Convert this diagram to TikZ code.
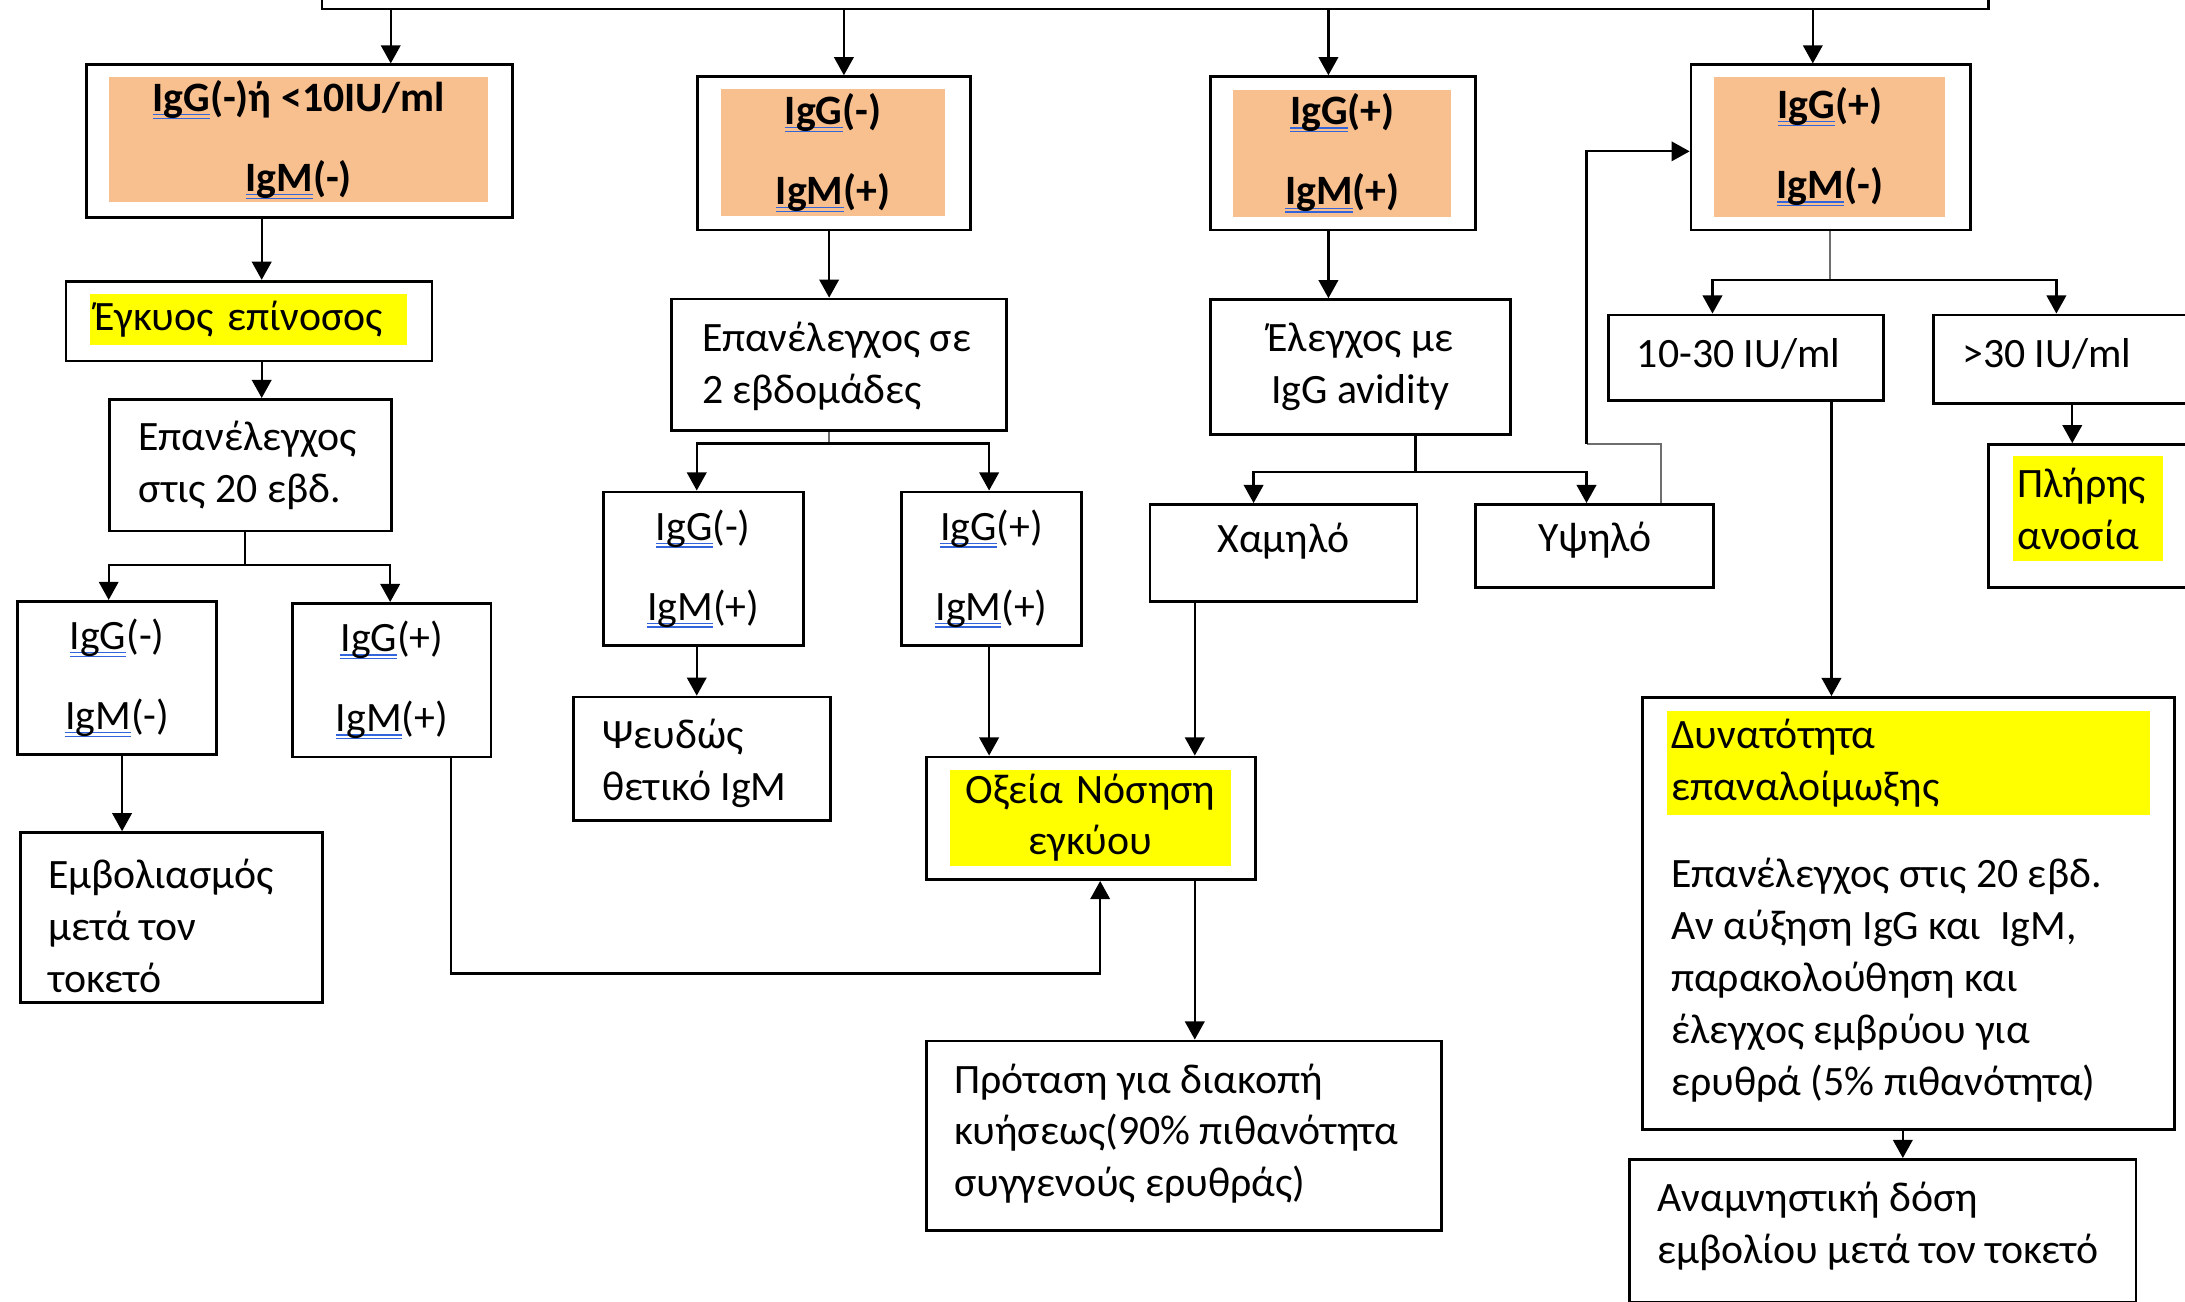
\documentclass[tikz,border=0pt]{standalone}
\usepackage{fontspec}
\setmainfont{Carlito}
\usetikzlibrary{arrows.meta}
\definecolor{orbg}{RGB}{248,191,143}
\definecolor{hlyellow}{RGB}{255,255,0}
\definecolor{spellblue}{RGB}{50,100,220}
\definecolor{stemgray}{RGB}{110,110,110}
\newcommand{\bodyfont}{\fontsize{15}{18.65}\selectfont}
\newcommand{\pairfont}{\fontsize{15}{28.75}\selectfont}
\newsavebox{\spellbox}
\newcommand{\spellmark}[1]{\sbox{\spellbox}{#1}\rlap{\color{spellblue}\rule[-1.4pt]{\wd\spellbox}{0.45pt}}\rlap{\color{spellblue}\rule[-2.7pt]{\wd\spellbox}{0.45pt}}\usebox{\spellbox}}
\begin{document}
\begin{tikzpicture}
	[x=0.5pt,y=-0.5pt,
	box/.style={draw,line width=1pt,anchor=north west,inner sep=0pt},
	wh/.style 2 args={minimum width=#1*0.5pt,minimum height=#2*0.5pt},
	pairbox/.style={box,align=center,font=\pairfont},
	textbox/.style={box,align=center,font=\bodyfont},
	ltext/.style={anchor=west,align=left,inner sep=0pt,font=\bodyfont},
	orfill/.style={fill=orbg,anchor=north west,inner sep=0pt,align=center,font=\pairfont\bfseries},
	hl/.style 2 args={fill=hlyellow,anchor=north west,inner xsep=1.7pt,inner ysep=0pt,text width=#1*0.5pt-3.4pt,minimum height=#2*0.5pt,align=left,font=\bodyfont},
	conn/.style={line width=0.8pt},
	arr/.style={conn,->},
	stem/.style={line width=0.7pt,stemgray},
	>={Triangle[length=6.5pt,width=7pt]}]
	\useasboundingbox (0,0) rectangle (1568,934);
	% top row
	\node[box,anchor=south west,wh={1196}{60}] (top) at (230,7.4) {};
	\node[box,wh={305.5}{109.8}] (b1) at (61,45.5) {};
	\node[orfill,wh={272}{89.6}] (b1h) at (78,55) {\spellmark{IgG}(-)ή <10IU/ml\\\spellmark{IgM}(-)};
	\node[box,wh={195.8}{110}] (b2) at (499.4,54) {};
	\node[orfill,wh={161}{91}] (b2h) at (517,63.7) {\spellmark{IgG}(-)\\\spellmark{IgM}(+)};
	\node[box,wh={190.7}{110}] (b3) at (867.4,54) {};
	\node[orfill,wh={156.5}{91}] (b3h) at (884.7,64) {\spellmark{IgG}(+)\\\spellmark{IgM}(+)};
	\node[box,wh={200.6}{118.5}] (b4) at (1212.5,45.5) {};
	\node[orfill,wh={165.8}{100}] (b4h) at (1229.9,55) {\spellmark{IgG}(+)\\\spellmark{IgM}(-)};
	% left column
	\node[box,wh={262.7}{57.2}] (pr) at (46.3,200.8) {};
	\node[hl={228}{36.4}] (prh) at (64,210.6) {Έγκυος επίνοσος};
	\node[box,wh={202.5}{94.4}] (re20) at (77.5,285.6) {};
	\node[ltext] (re20t) at ([xshift=10.75pt]re20.west) {Επανέλεγχος\\στις 20 εβδ.};
	\node[pairbox,wh={142.9}{109.9}] (nn) at (11.6,430.5) {\spellmark{IgG}(-)\\\spellmark{IgM}(-)};
	\node[pairbox,wh={142.4}{110.2}] (pp1) at (209,432) {\spellmark{IgG}(+)\\\spellmark{IgM}(+)};
	\node[box,wh={217}{122.1}] (vac) at (13.6,596.5) {};
	\node[ltext] (vact) at ([xshift=10.3pt,yshift=-2.9pt]vac.west) {Εμβολιασμός\\μετά τον\\τοκετό};
	% second column
	\node[box,wh={240.4}{94.4}] (re2) at (481,213.6) {};
	\node[ltext] (re2t) at ([xshift=11.2pt,yshift=-0.6pt]re2.west) {Επανέλεγχος σε\\2 εβδομάδες};
	\node[pairbox,wh={143.4}{110}] (np) at (432,352) {\spellmark{IgG}(-)\\\spellmark{IgM}(+)};
	\node[pairbox,wh={129.3}{110}] (pp2) at (645.9,352) {\spellmark{IgG}(+)\\\spellmark{IgM}(+)};
	\node[box,wh={184.2}{88.6}] (fp) at (410.8,499.2) {};
	\node[ltext] (fpt) at ([xshift=10.6pt,yshift=-1.7pt]fp.west) {Ψευδώς\\θετικό IgM};
	\node[box,wh={236.1}{88}] (ac) at (664,542.2) {};
	\node[hl={202.3}{68.7},align=center] (ach) at (681,552) {Οξεία Νόσηση\\εγκύου};
	\node[box,wh={369.7}{136}] (ter) at (664,746) {};
	\node[ltext] (tert) at ([xshift=10.3pt,yshift=0.75pt]ter.west) {Πρόταση για διακοπή\\κυήσεως(90\% πιθανότητα\\συγγενούς ερυθράς)};
	% third column
	\node[textbox,wh={215.5}{97}] (av) at (867.4,214) {Έλεγχος με\\IgG avidity};
	\node[textbox,wh={191.6}{69.5},text depth=11pt] (lo) at (824.2,361) {Χαμηλό};
	\node[textbox,wh={170.8}{59.5},text depth=6.3pt] (hi) at (1058.1,361) {Υψηλό};
	% right column
	\node[box,wh={197.2}{61.5}] (lv) at (1153.4,225) {};
	\node[ltext] (lvt) at ([xshift=10.45pt,yshift=1.4pt]lv.west) {10-30 IU/ml};
	\node[box,wh={200}{63.5}] (gt) at (1386.3,225) {};
	\node[ltext] (gtt) at ([xshift=10.7pt,yshift=1.9pt]gt.west) {>30 IU/ml};
	\node[box,wh={160}{102.5}] (im) at (1426,318) {};
	\node[hl={107.8}{75}] (imh) at (1443.9,327) {Πλήρης\\ανοσία};
	\node[box,wh={381.9}{309.8}] (rein) at (1177.7,499.5) {};
	\node[hl={346.6}{74.6}] (reinh) at (1195.6,509.7) {Δυνατότητα\\επαναλοίμωξης};
	\node[ltext] (reint) at (1199,703.6) {Επανέλεγχος στις 20 εβδ.\\Αν αύξηση IgG και\ \ IgM,\\παρακολούθηση και\\έλεγχος εμβρύου για\\ερυθρά (5\% πιθανότητα)};
	\node[box,wh={363.5}{102.4}] (boost) at (1168.3,831) {};
	\node[ltext] (boostt) at ([xshift=10.35pt,yshift=1.6pt]boost.west) {Αναμνηστική δόση\\εμβολίου μετά τον τοκετό};
	% junctions
	\coordinate (j1) at (176,405.5);
	\coordinate (j2) at (595,318.3);
	\coordinate (j3) at (1015.8,338.5);
	\coordinate (j5) at (1313.3,201);
	\coordinate (k1) at (323.7,698.6);
	\coordinate (k2) at (1138.5,318.6);
	% connectors
	\draw[arr] (top.south -| 280.4,0) -- (b1.north -| 280.4,0);
	\draw[arr] (top.south -| 605.6,0) -- (b2.north -| 605.6,0);
	\draw[arr] (top.south -| 953.3,0) -- (b3.north -| 953.3,0);
	\draw[arr] (top.south -| 1300.9,0) -- (b4.north -| 1300.9,0);
	\draw[arr] (b1.south -| 187.8,0) -- (pr.north -| 187.8,0);
	\draw[arr] (pr.south -| 187.8,0) -- (re20.north -| 187.8,0);
	\draw[conn] (re20.south -| j1) -- (j1);
	\draw[arr] (j1) -| (nn.north -| 78,0);
	\draw[arr] (j1) -| (pp1.north -| 280,0);
	\draw[arr] (nn.south -| 87.6,0) -- (vac.north -| 87.6,0);
	\draw[arr] (pp1.south -| k1) -- (k1) -| (ac.south -| 789.5,0);
	\draw[arr] (b2.south -| 595,0) -- (re2.north -| 595,0);
	\draw[stem] (re2.south -| j2) -- (j2);
	\draw[arr] (j2) -| (np.north -| 500,0);
	\draw[arr] (j2) -| (pp2.north -| 709.8,0);
	\draw[arr] (np.south -| 500,0) -- (fp.north -| 500,0);
	\draw[arr] (pp2.south -| 709.8,0) -- (ac.north -| 709.8,0);
	\draw[arr] (b3.south -| 953.3,0) -- (av.north -| 953.3,0);
	\draw[conn] (av.south -| j3) -- (j3);
	\draw[arr] (j3) -| (lo.north -| 899.6,0);
	\draw[arr] (j3) -| (hi.north -| k2);
	\draw[arr] (lo.south -| 857.4,0) -- (ac.north -| 857.4,0);
	\draw[arr] (ac.south -| 857.4,0) -- (ter.north -| 857.4,0);
	\draw[stem] (hi.north -| 1191.7,0) |- (k2);
	\draw[arr] (k2) |- (b4.west |- 0,108.6);
	\draw[stem] (b4.south -| j5) -- (j5);
	\draw[arr] (j5) -| (lv.north -| 1228.9,0);
	\draw[arr] (j5) -| (gt.north -| 1475.7,0);
	\draw[arr] (gt.south -| 1487.1,0) -- (im.north -| 1487.1,0);
	\draw[arr] (lv.south -| 1314.3,0) -- (rein.north -| 1314.3,0);
	\draw[arr] (rein.south -| 1365.5,0) -- (boost.north -| 1365.5,0);
\end{tikzpicture}
\end{document}
